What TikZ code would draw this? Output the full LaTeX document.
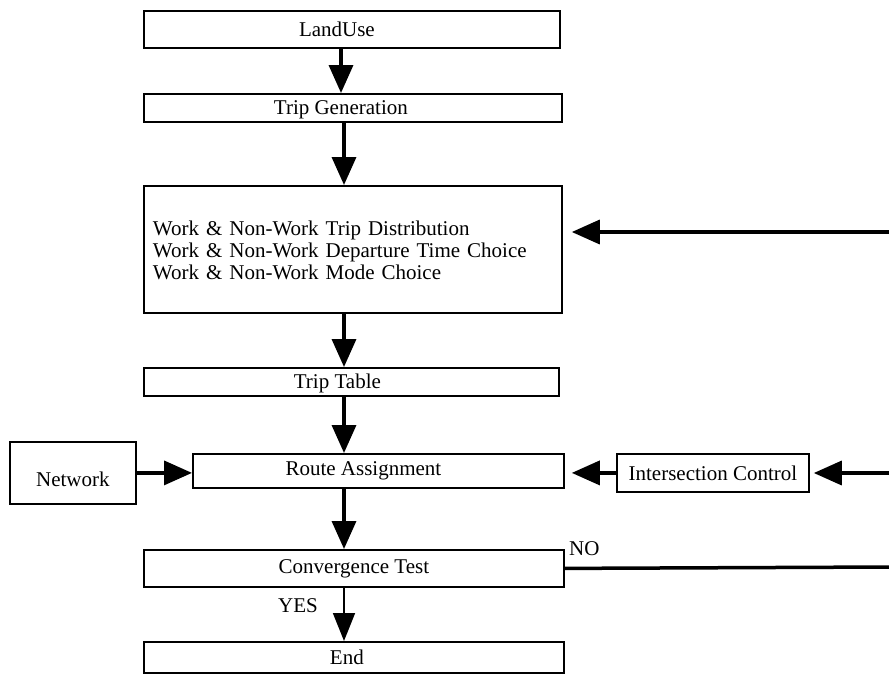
\documentclass[tikz,border=0pt]{standalone}
\usepackage{fontspec}
\setmainfont{Liberation Serif}
\usetikzlibrary{arrows.meta}
\begin{document}
\begin{tikzpicture}[x=1pt,y=-1pt,
  box/.style={draw, line width=1.8pt, rectangle, inner sep=0pt, anchor=north west,
    font=\fontsize{21}{22}\selectfont},
  flow/.style={line width=3.5pt, -{Triangle[length=28pt,width=24pt]}},
  thinflow/.style={line width=1.6pt, -{Triangle[length=28pt,width=22pt]}},
  plain/.style={line width=3.5pt},
  lbl/.style={font=\fontsize{21}{22}\selectfont, inner sep=0pt}]
\useasboundingbox (0,0) rectangle (889,673);

\node[box, minimum width=416pt, minimum height=37pt] (landuse) at (143,10) {\hspace*{-30pt}LandUse};
\node[box, minimum width=418pt, minimum height=28pt] (tripgen) at (143,93) {\hspace*{-24pt}\raisebox{-2pt}[\height][\depth]{Trip Generation}};
\node[box, minimum width=418pt, minimum height=127pt, align=left, text width=400pt] (dist) at (143,185)
  {\raisebox{-4pt}[\height][\depth]{\begin{tabular}{@{}l@{}}Work \& Non-Work Trip Distribution\\Work \& Non-Work Departure Time Choice\\Work \& Non-Work Mode Choice\end{tabular}}};
\node[box, minimum width=415pt, minimum height=28pt] (triptable) at (143,367) {\hspace*{-28pt}\raisebox{-2pt}[\height][\depth]{Trip Table}};
\node[box, minimum width=126pt, minimum height=62pt] (network) at (9,441) {\raisebox{-6pt}[\height][\depth]{Network}};
\node[box, minimum width=371pt, minimum height=34pt] (route) at (192,453) {\hspace*{-30pt}Route Assignment};
\node[box, minimum width=192pt, minimum height=38pt] (ic) at (616,453) {Intersection Control};
\node[box, minimum width=420pt, minimum height=37pt] (conv) at (143,549) {Convergence Test};
\node[box, minimum width=420pt, minimum height=31pt] (endbox) at (143,641) {\hspace*{-14pt}End};

\node[lbl] (yes) at (298,606) {YES};
\node[lbl, anchor=west] (no) at (569,549) {NO};

\coordinate (c1) at (341,0);
\coordinate (c2) at (344,0);
\coordinate (rin1) at (889,232);
\coordinate (rin2) at (889,473);
\coordinate (rout) at (889,567);

\draw[flow] (landuse.south -| c1) -- (tripgen.north -| c1);
\draw[flow] (tripgen.south -| c2) -- (dist.north -| c2);
\draw[flow] (dist.south -| c2) -- (triptable.north -| c2);
\draw[flow] (triptable.south -| c2) -- (route.north -| c2);
\draw[flow] (route.south -| c2) -- (conv.north -| c2);
\draw[thinflow] (conv.south -| c2) -- (endbox.north -| c2);
\draw[flow] (network.east) -- (network.east -| route.west);
\draw[flow, shorten >=7pt] (ic.west) -- (ic.west -| route.east);
\draw[flow, shorten >=4pt] (rin2) -- (rin2 -| ic.east);
\draw[flow, shorten >=9pt] (rin1) -- (rin1 -| dist.east);
\draw[plain] (conv.east) -- (rout);
\end{tikzpicture}
\end{document}
